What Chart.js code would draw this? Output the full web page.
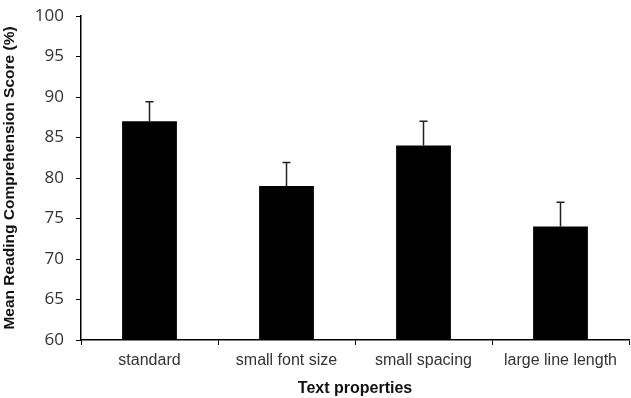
<!DOCTYPE html>
<html>
<head>
<meta charset="utf-8">
<script src="https://cdn.jsdelivr.net/npm/chart.js@4/dist/chart.umd.min.js"></script>
<style>
html,body{margin:0;padding:0;background:#fff;}
#wrap{width:631px;height:398px;position:relative;}
</style>
</head>
<body>
<div id="wrap"><canvas id="c" width="631" height="398"></canvas></div>
<script>
const categories = ["standard", "small font size", "small spacing", "large line length"];
const meanScores = [87, 79, 84, 74];
const errorUpper = [2.4, 2.9, 3.0, 3.0];
const yTicks = [60, 65, 70, 75, 80, 85, 90, 95, 100];

const errorBarPlugin = {
  id: 'errorBars',
  afterDatasetsDraw(chart) {
    const ctx = chart.ctx;
    const meta = chart.getDatasetMeta(0);
    const y = chart.scales.y;
    ctx.save();
    ctx.strokeStyle = '#222';
    ctx.lineWidth = 1.5;
    meta.data.forEach((bar, i) => {
      const top = y.getPixelForValue(meanScores[i] + errorUpper[i]);
      const base = y.getPixelForValue(meanScores[i]);
      ctx.beginPath();
      ctx.moveTo(bar.x, base);
      ctx.lineTo(bar.x, top);
      ctx.moveTo(bar.x - 4, top);
      ctx.lineTo(bar.x + 4, top);
      ctx.stroke();
    });
    ctx.restore();
  }
};

new Chart(document.getElementById('c'), {
  type: 'bar',
  data: {
    labels: categories,
    datasets: [{
      data: meanScores,
      backgroundColor: '#000',
      borderWidth: 0,
      categoryPercentage: 1,
      barPercentage: 0.4
    }]
  },
  plugins: [errorBarPlugin],
  options: {
    responsive: false,
    animation: false,
    layout: { padding: { left: 0, right: 2, top: 16, bottom: 0 } },
    plugins: { legend: { display: false }, tooltip: { enabled: false } },
    scales: {
      x: {
        offset: true,
        grid: { display: true, drawOnChartArea: false, offset: true, tickLength: 5, color: '#000', lineWidth: 1 },
        border: { color: '#000', width: 1.5 },
        ticks: { color: '#333', font: { family: 'Liberation Sans', size: 16 }, padding: 6 },
        title: { display: true, text: 'Text properties', color: '#111', font: { family: 'Liberation Sans', size: 16, weight: 'bold' }, padding: { top: 0, bottom: 0 } },
        afterFit(s) { s.height = 58; s.paddingLeft = 0; s.paddingRight = 0; }
      },
      y: {
        min: 60, max: 100,
        afterBuildTicks(s) { s.ticks = yTicks.map(v => ({ value: v })); },
        grid: { display: true, drawOnChartArea: false, tickLength: 5, color: '#000', lineWidth: 1 },
        border: { color: '#000', width: 1.5 },
        ticks: { color: '#333', font: { family: 'Open Sans', size: 17 }, padding: 12 },
        title: { display: true, text: 'Mean Reading Comprehension Score (%)', color: '#111', font: { family: 'Liberation Sans', size: 15.5, weight: 'bold' }, padding: { top: 0, bottom: 0 } },
        afterFit(s) { s.width = 81; s.paddingTop = 0; s.paddingBottom = 0; }
      }
    }
  }
});
</script>
</body>
</html>
